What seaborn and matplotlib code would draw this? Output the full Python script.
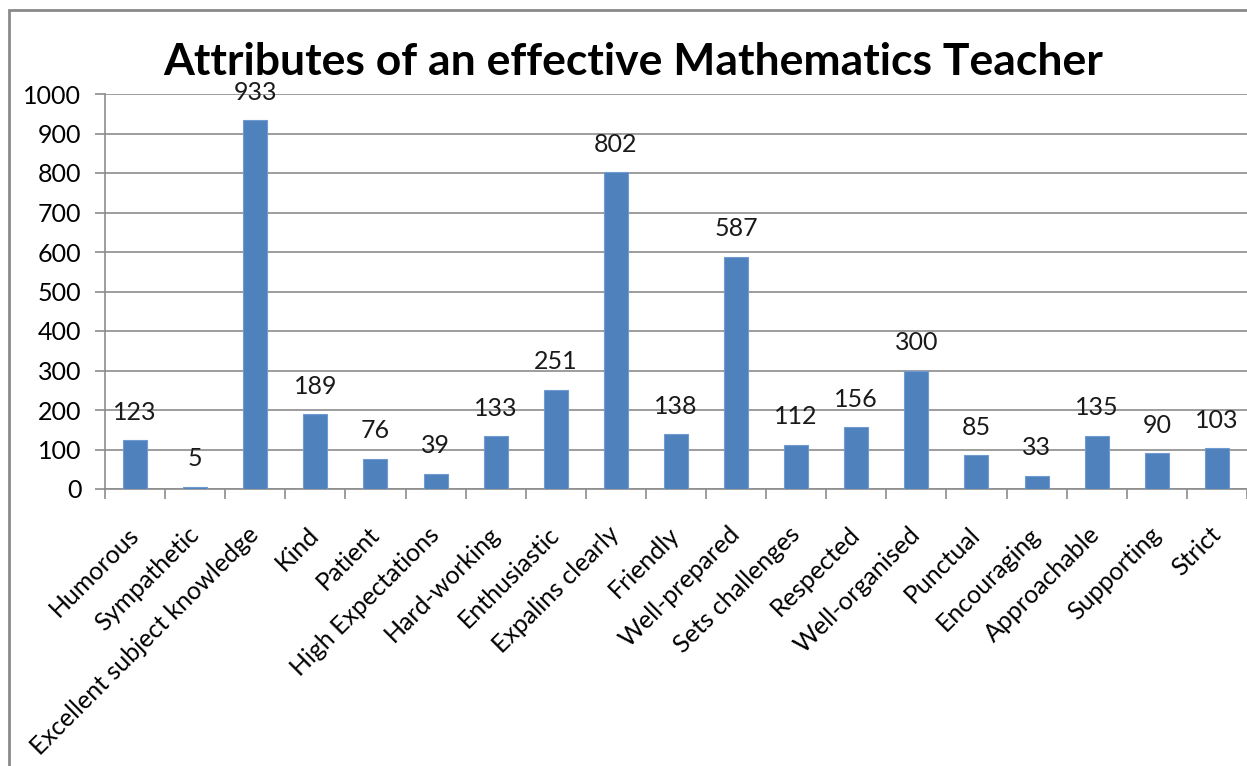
import matplotlib
matplotlib.use("Agg")
import matplotlib.pyplot as plt
import matplotlib.patches as mpatches
from matplotlib.ticker import FixedLocator
import seaborn as sns
import pandas as pd
import numpy as np

attributes = [
    "Humorous", "Sympathetic", "Excellent subject knowledge", "Kind", "Patient",
    "High Expectations", "Hard-working", "Enthusiastic", "Expalins clearly",
    "Friendly", "Well-prepared", "Sets challenges", "Respected", "Well-organised",
    "Punctual", "Encouraging", "Approachable", "Supporting", "Strict",
]
counts = [123, 5, 933, 189, 76, 39, 133, 251, 802, 138, 587, 112, 156, 300, 85, 33, 135, 90, 103]
y_ticks = [0, 100, 200, 300, 400, 500, 600, 700, 800, 900, 1000]
title = "Attributes of an effective Mathematics Teacher"

df = pd.DataFrame({"attribute": attributes, "count": counts})

sns.set_theme(style="white")
plt.rcParams["font.family"] = ["Lato", "DejaVu Sans"]

W, H = 1247, 766
fig = plt.figure(figsize=(W / 100, H / 100), dpi=100)
ax = fig.add_axes([105 / W, 1 - 489 / H, 19 * 60.1 / W, (489 - 94) / H])

grid_c = "#8c8c8c"
fs = 18
sns.barplot(data=df, x="attribute", y="count", color="#4F81BD", saturation=1,
            width=0.4, edgecolor="#6f9bd0", linewidth=0.8, ax=ax, zorder=3)

ax.set_xlim(-0.5, len(attributes) - 0.5)
ax.set_ylim(0, 1000)
ax.set_yticks(y_ticks)
ax.yaxis.grid(True, color=grid_c, linewidth=1.2)
ax.set_axisbelow(True)
ax.set_xlabel("")
ax.set_ylabel("")

for side in ("top", "right"):
    ax.spines[side].set_visible(False)
for side in ("left", "bottom"):
    ax.spines[side].set_color(grid_c)
    ax.spines[side].set_linewidth(1.2)

# category boundaries carry the tick marks, labels sit at the centres
ax.xaxis.set_minor_locator(FixedLocator(np.arange(-0.5, len(attributes), 1.0)))
ax.tick_params(axis="x", which="minor", length=7, width=1.2, color=grid_c, direction="out", bottom=True)
ax.tick_params(axis="x", which="major", length=0, pad=30, labelsize=fs, labelcolor="black")
ax.tick_params(axis="y", which="major", length=7, width=1.2, color=grid_c, direction="out",
               left=True, pad=10, labelsize=fs, labelcolor="black")
for lbl in ax.get_xticklabels():
    lbl.set_rotation(45)
    lbl.set_ha("right")
    lbl.set_va("center")
    lbl.set_rotation_mode("anchor")

for container in ax.containers:
    ax.bar_label(container, labels=[str(v) for v in counts], padding=12,
                 fontsize=fs, color="#1a1a1a")

fig.text(633 / W, 1 - 62 / H, title, ha="center", va="center",
         fontsize=32, fontweight="bold", color="black")

# chart-area frame
fig.patches.append(mpatches.Rectangle((9 / W, -0.2), 1.2, 1.2 - 10 / H,
                                      transform=fig.transFigure, fill=False,
                                      edgecolor="#8a8a8a", linewidth=2))

fig.savefig("out.png", dpi=100)
